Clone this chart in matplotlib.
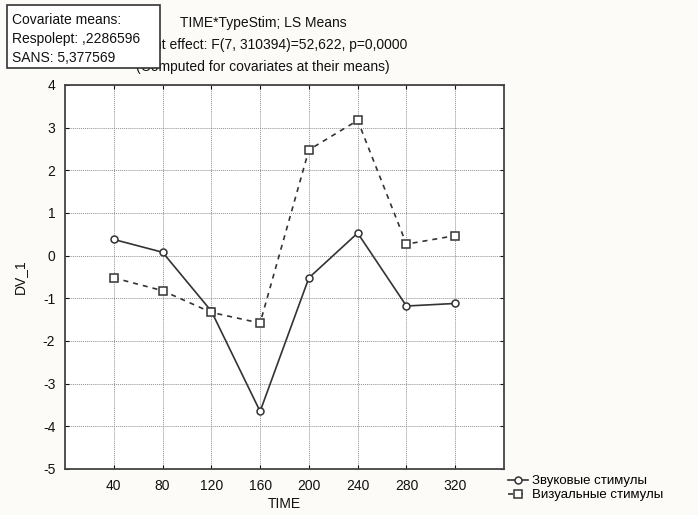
import matplotlib
matplotlib.use('Agg')
import matplotlib.pyplot as plt
from matplotlib.patches import Rectangle

plt.rcParams['font.family'] = ['Liberation Sans', 'DejaVu Sans']
plt.rcParams['axes.unicode_minus'] = False

# data
time = [40, 80, 120, 160, 200, 240, 280, 320]
sound = [0.38, 0.08, -1.30, -3.65, -0.52, 0.53, -1.18, -1.12]
visual = [-0.52, -0.82, -1.33, -1.58, 2.48, 3.17, 0.27, 0.47]
labels = ['Звуковые стимулы', 'Визуальные стимулы']
title_lines = ['TIME*TypeStim; LS Means',
               'Current effect: F(7, 310394)=52,622, p=0,0000',
               '(Computed for covariates at their means)']
cov_lines = ['Covariate means:', 'Respolept: ,2286596', 'SANS: 5,377569']

W, H = 698, 515
fig = plt.figure(figsize=(W / 100, H / 100), dpi=100, facecolor='#fcfbf7')
ax = fig.add_axes([65 / W, 1 - 469 / H, (504 - 65) / W, (469 - 85) / H])
ax.set_facecolor('white')

ax.plot(time, sound, '-', color='#333333', lw=1.2, marker='o', ms=5,
        mfc='white', mec='#333333', mew=1.1, label=labels[0], zorder=3)
ax.plot(time, visual, color='#333333', lw=1.2, ls=(0, (3, 3)), marker='s', ms=5.5,
        mfc='white', mec='#333333', mew=1.1, label=labels[1], zorder=3)

ax.set_xlim(0, 360)
ax.set_ylim(-5, 4)
ax.set_xticks(time)
ax.set_yticks(range(-5, 5))
ax.grid(True, color='#909090', ls=(0, (1, 1)), lw=0.7)
ax.tick_params(direction='in', length=3, top=True, right=True,
               labelsize=10, pad=7, colors='#111111')
for s in ax.spines.values():
    s.set_color('#444444')
    s.set_linewidth(1.3)

ax.set_ylabel('DV_1', fontsize=10, color='#111111')
ax.yaxis.set_label_coords(-0.087, 0.5)
ax.set_xlabel('TIME', fontsize=10, color='#111111')
ax.xaxis.set_label_coords(0.5, -0.072)

ax.legend(loc='upper left', bbox_to_anchor=(508 / W, 1 - 475 / H),
          bbox_transform=fig.transFigure, frameon=False, fontsize=9.5,
          handlelength=1.5, handletextpad=0.3, labelspacing=0.15,
          borderaxespad=0, borderpad=0)

# title lines
for txt, yb in zip(title_lines, [27, 49, 71]):
    fig.text(263 / W, 1 - yb / H, txt, ha='center', va='baseline',
             fontsize=10, color='#111111')

# covariate box on top of the title
fig.patches.append(Rectangle((7 / W, 1 - 68 / H), (160 - 7) / W, (68 - 5) / H,
                             transform=fig.transFigure, facecolor='white',
                             edgecolor='#333333', lw=1.2, zorder=5))
for txt, yb in zip(cov_lines, [24, 43, 62]):
    fig.text(12 / W, 1 - yb / H, txt, ha='left', va='baseline',
             fontsize=10, color='#111111', zorder=6)

fig.savefig('out.png', dpi=100, facecolor=fig.get_facecolor())
